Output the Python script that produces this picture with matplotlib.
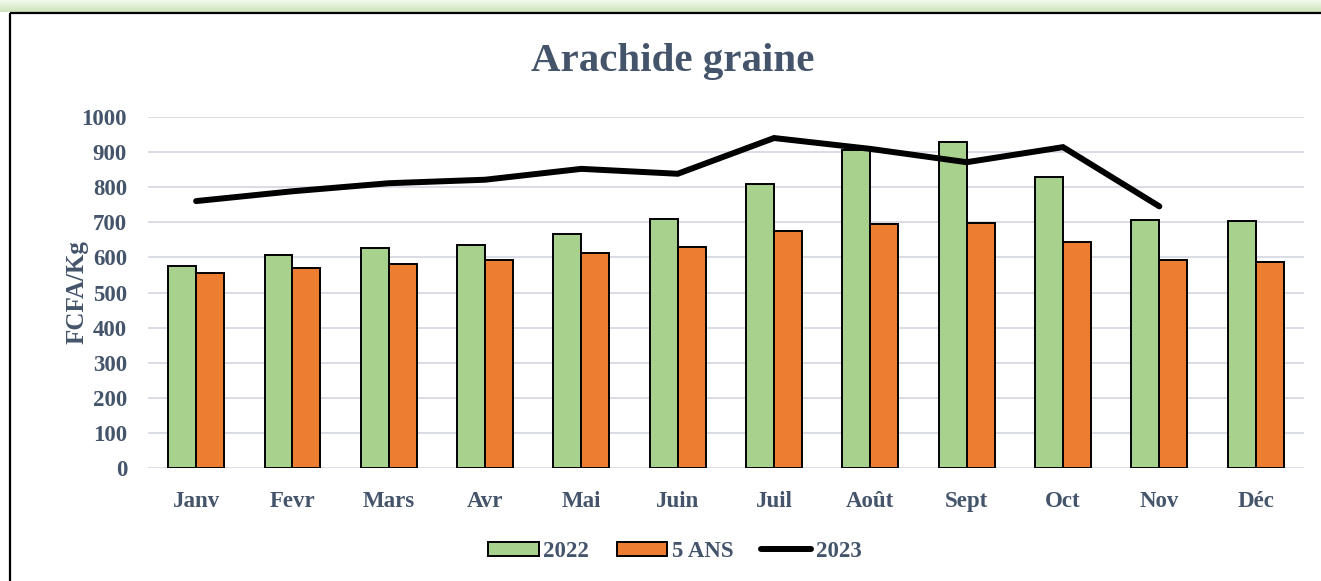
import numpy as np
import matplotlib.pyplot as plt
from matplotlib.patches import Rectangle

months = ["Janv", "Fevr", "Mars", "Avr", "Mai", "Juin", "Juil", "Août", "Sept", "Oct", "Nov", "Déc"]
prix_2022 = [576, 606, 626, 637, 668, 710, 811, 908, 930, 829, 708, 705]
prix_5ans = [557, 571, 582, 592, 614, 630, 677, 696, 698, 643, 593, 588]
prix_2023 = [761, 789, 812, 822, 853, 839, 941, 910, 872, 915, 746]

text_col = "#44546A"
green = "#A9D18E"
orange = "#ED7D31"

plt.rcParams['font.family'] = ['Liberation Serif', 'DejaVu Serif']
plt.rcParams['font.weight'] = 'bold'
plt.rcParams['axes.labelweight'] = 'bold'

fig = plt.figure(figsize=(13.21, 5.81), dpi=100)

# background: green glow on top and black frame
bg = fig.add_axes([0, 0, 1, 1], zorder=-5)
bg.set_xlim(0, 1321)
bg.set_ylim(581, 0)
bg.axis("off")
grad = np.linspace(0, 1, 50).reshape(-1, 1)
top_c = np.array([0.95, 0.98, 0.93])
bot_c = np.array([0.80, 0.89, 0.73])
img = top_c + grad[..., None] * (bot_c - top_c)
img = np.repeat(img, 2, axis=1)
bg.imshow(img, extent=(0, 1321, 12, 0), aspect="auto")
bg.add_patch(Rectangle((9.5, 13), 1400, 600, fill=False, edgecolor="black", lw=1.6))

ax = fig.add_axes([0.112, 0.195, 0.875, 0.603])
x = np.arange(len(months))
w = 0.29
b1 = ax.bar(x - w / 2, prix_2022, width=w, color=green, edgecolor="black", lw=1.4, label="2022", zorder=3)
b2 = ax.bar(x + w / 2, prix_5ans, width=w, color=orange, edgecolor="black", lw=1.4, label="5 ANS", zorder=3)
l1, = ax.plot(x[:len(prix_2023)], prix_2023, color="black", lw=4.3, solid_capstyle="round",
              solid_joinstyle="miter", label="2023", zorder=4)

ax.set_xlim(-0.5, len(months) - 0.5)
ax.set_ylim(0, 1000)
ax.set_yticks(range(0, 1001, 100))
ax.set_xticks(x)
ax.set_xticklabels(months)
ax.grid(axis="y", color="#D9DDE5", lw=1.4, zorder=0)
for s in ax.spines.values():
    s.set_visible(False)
ax.tick_params(length=0, labelsize=16.5, colors=text_col)
ax.tick_params(axis="x", pad=17)
ax.tick_params(axis="y", pad=15)
ax.set_ylabel("FCFA/Kg", fontsize=18, color=text_col, labelpad=-5, fontweight="bold")

fig.text(0.509, 0.895, "Arachide graine", ha="center", va="center", fontsize=29.5,
         color=text_col, fontweight="bold")

leg = fig.legend(handles=[b1, b2, l1], loc="center", bbox_to_anchor=(0.511, 0.051), ncol=3,
                 frameon=False, fontsize=16.5, handlelength=2.2, handleheight=0.6,
                 columnspacing=1.2, handletextpad=0.2)
for t in leg.get_texts():
    t.set_color(text_col)

fig.savefig("out.png", dpi=100)
